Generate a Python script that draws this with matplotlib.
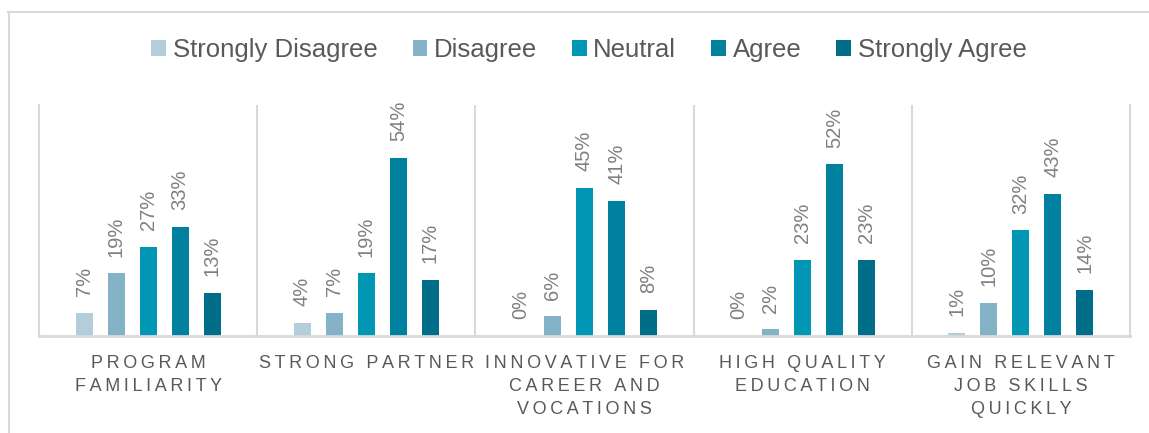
import matplotlib
matplotlib.use("Agg")
import matplotlib.pyplot as plt
from matplotlib.patches import Patch
from matplotlib.lines import Line2D

categories = ["PROGRAM\nFAMILIARITY", "STRONG PARTNER", "INNOVATIVE FOR\nCAREER AND\nVOCATIONS",
              "HIGH QUALITY\nEDUCATION", "GAIN RELEVANT\nJOB SKILLS\nQUICKLY"]
series = ["Strongly Disagree", "Disagree", "Neutral", "Agree", "Strongly Agree"]
strongly_disagree = [7, 4, 0, 0, 1]
disagree = [19, 7, 6, 2, 10]
neutral = [27, 19, 45, 23, 32]
agree = [33, 54, 41, 52, 43]
strongly_agree = [13, 17, 8, 23, 14]
values = [strongly_disagree, disagree, neutral, agree, strongly_agree]
colors = ["#B4CDDA", "#84B3C8", "#0096B4", "#00819F", "#006E89"]

plt.rcParams['font.family'] = ['Liberation Sans', 'DejaVu Sans']

W, H = 1149, 433
fig = plt.figure(figsize=(W / 100, H / 100), dpi=100)
ax = fig.add_axes([39 / W, (H - 336) / H, (1130 - 39) / W, (336 - 105) / H])

slot = 32 / 218
bw = 17 / 218
for i, (name, vals, c) in enumerate(zip(series, values, colors)):
    xs = [k + (i - 2) * slot for k in range(len(categories))]
    ax.bar(xs, [v / 100 for v in vals], width=bw, color=c, label=name, zorder=2)
    for x, v in zip(xs, vals):
        ax.annotate(f"{v}%", xy=(x, v / 100), xytext=(0, 12), textcoords="offset points",
                    rotation=90, ha="center", va="bottom", fontsize=14.5, color="#808080")

ax.set_xlim(-0.5, len(categories) - 0.5)
ax.set_ylim(0, 0.70)
ax.set_yticks([])
ax.set_xticks([])
ax.spines["top"].set_visible(False)
for s in ["left", "right"]:
    ax.spines[s].set_color("#D9D9D9")
    ax.spines[s].set_linewidth(1.5)
ax.spines["bottom"].set_color("#D9D9D9")
ax.spines["bottom"].set_linewidth(2)
for k in range(1, len(categories)):
    ax.axvline(k - 0.5, color="#D9D9D9", lw=1.5, zorder=1)


def spaced(s):
    return "\n".join("\u2009".join(line) for line in s.split("\n"))


for k, cat in enumerate(categories):
    ax.text(k, -19 / 231 * 0.70, spaced(cat), ha="center", va="top", fontsize=13,
            color="#595959", linespacing=1.45, transform=ax.transData)

handles = [Patch(facecolor=c, edgecolor="none") for c in colors]
fig.legend(handles, series, loc="center", bbox_to_anchor=(589 / W, 1 - 50 / H), ncol=5,
           frameon=False, fontsize=18.5, labelcolor="#595959", handlelength=0.58,
           handleheight=0.58, handletextpad=0.25, columnspacing=1.36)

fig.add_artist(Line2D([8 / W, 1], [1 - 12 / H, 1 - 12 / H], color="#D9D9D9", lw=1.5,
                      transform=fig.transFigure))
fig.add_artist(Line2D([8.5 / W, 8.5 / W], [0, 1 - 12 / H], color="#D9D9D9", lw=1.5,
                      transform=fig.transFigure))

fig.savefig("out.png", dpi=100)
